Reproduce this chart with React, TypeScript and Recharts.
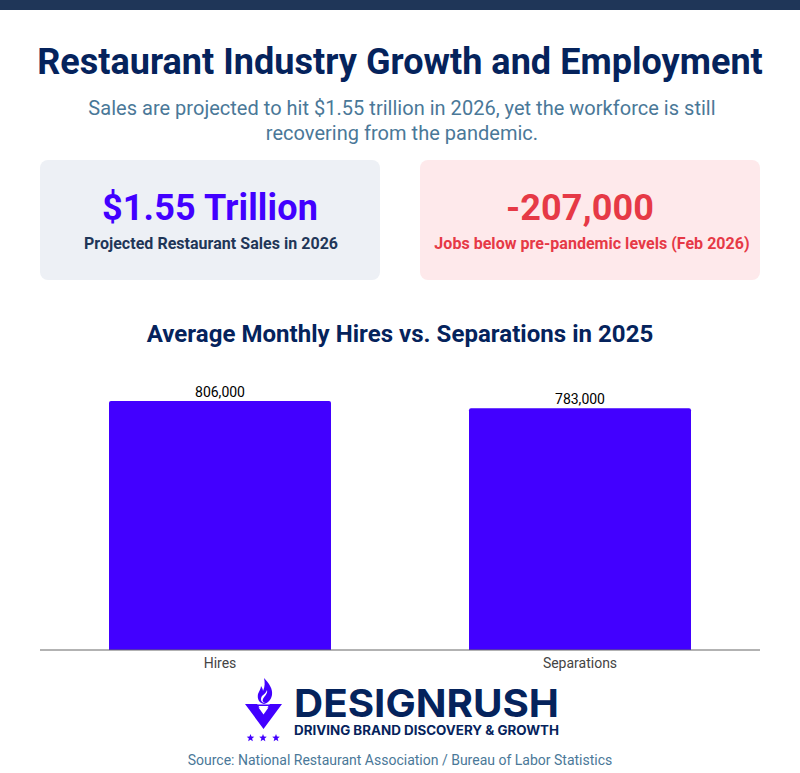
import { BarChart, Bar, XAxis, YAxis, LabelList } from 'recharts';

const categories = ['Hires', 'Separations'];
const monthlyCounts = [806000, 783000];

const data = categories.map((name, i) => ({ name, value: monthlyCounts[i] }));

const FONT = 'Roboto, sans-serif';
const NAVY = '#05235c';

function Card({ left, bg, color, subColor, big, small, bigShift = 0, smallShift = 0 }: any) {
  return (
    <div
      style={{
        position: 'absolute',
        left,
        top: 160,
        width: 340,
        height: 120,
        background: bg,
        borderRadius: 8,
        textAlign: 'center',
      }}
    >
      <div style={{ position: 'absolute', top: 26, left: bigShift, width: '100%', fontSize: 36, letterSpacing: 0.15, lineHeight: '44px', fontWeight: 700, color }}>
        {big}
      </div>
      <div style={{ position: 'absolute', top: 74, left: smallShift, width: '100%', fontSize: 16, letterSpacing: 0.03, lineHeight: '20px', fontWeight: 700, color: subColor, whiteSpace: 'nowrap' }}>
        {small}
      </div>
    </div>
  );
}

function Logo() {
  const star = (cx: number) => {
    const pts = [];
    for (let i = 0; i < 10; i++) {
      const r = i % 2 === 0 ? 4 : 1.7;
      const a = -Math.PI / 2 + (i * Math.PI) / 5;
      pts.push(`${cx + r * Math.cos(a)},${738 + r * Math.sin(a)}`);
    }
    return <polygon key={cx} points={pts.join(' ')} fill="#4200ff" />;
  };
  return (
    <svg width={800} height={773} style={{ position: 'absolute', left: 0, top: 0, pointerEvents: 'none' }}>
      <path
        d="M264 678 C269 683 273 689 272 695 C271 700 268 703 264 704 C259 703 257 699 258 694 C259 691 261 689 261 686 C262 688 263 689 263 691 C265 687 265 682 264 678 Z"
        fill="#4200ff"
      />
      <path d="M267 690 C268 694 264 696 263 699 C262 701 263 702 265 703 C261 703 260 699 262 696 C264 694 266 693 267 690 Z" fill="#fff" />
      <rect x={257} y={704.5} width={13} height={1.5} fill="#4200ff" />
      <path d="M245 704 L257 704 L263.5 713 L270 704 L282 704 L263.5 729 Z" fill="#4200ff" />
      <path d="M258.5 707.5 L268.5 707.5 L263.5 714.5 Z" fill="#fff" />
      {[250.5, 263, 276].map((x) => star(x))}
      <text
        x={294}
        y={717}
        fontFamily="Inter, sans-serif"
        fontWeight={700}
        fontSize={38.5}
        fill={NAVY}
        textLength={265}
        lengthAdjust="spacingAndGlyphs"
      >
        DESIGNRUSH
      </text>
      <text
        x={294}
        y={735}
        fontFamily="Inter, sans-serif"
        fontWeight={700}
        fontSize={12.5}
        fill={NAVY}
        textLength={265}
        lengthAdjust="spacingAndGlyphs"
      >
        DRIVING BRAND DISCOVERY &amp; GROWTH
      </text>
    </svg>
  );
}

export default function App() {
  return (
    <div
      style={{
        position: 'absolute',
        left: 0,
        top: 0,
        width: 800,
        height: 773,
        overflow: 'hidden',
        background: '#fff',
        fontFamily: FONT,
      }}
    >
      <div style={{ position: 'absolute', left: 0, top: 0, width: 800, height: 10, background: '#1f3658' }} />
      <div
        style={{
          position: 'absolute',
          top: 39,
          width: 800,
          textAlign: 'center',
          fontSize: 36,
          letterSpacing: 0.03,
          lineHeight: '46px',
          fontWeight: 700,
          color: NAVY,
        }}
      >
        Restaurant Industry Growth and Employment
      </div>
      <div
        style={{
          position: 'absolute',
          top: 96,
          left: 2,
          width: 800,
          textAlign: 'center',
          fontSize: 20,
          letterSpacing: 0.02,
          lineHeight: '25px',
          color: '#4a7898',
        }}
      >
        Sales are projected to hit $1.55 trillion in 2026, yet the workforce is still
        <br />
        recovering from the pandemic.
      </div>

      <Card left={40} bg="#edf0f5" color="#4200ff" subColor="#1f3658" big="$1.55 Trillion" small="Projected Restaurant Sales in 2026" smallShift={1} />
      <Card left={420} bg="#fee9eb" color="#e63946" subColor="#e63946" big="-207,000" small="Jobs below pre-pandemic levels (Feb 2026)" bigShift={-10} smallShift={2} />

      <div
        style={{
          position: 'absolute',
          top: 319,
          width: 800,
          textAlign: 'center',
          fontSize: 24,
          letterSpacing: 0.04,
          lineHeight: '30px',
          fontWeight: 700,
          color: NAVY,
        }}
      >
        Average Monthly Hires vs. Separations in 2025
      </div>

      <div style={{ position: 'absolute', left: 0, top: 360 }}>
        <BarChart
          width={800}
          height={320}
          data={data}
          margin={{ top: 12, right: 40, bottom: 0, left: 40 }}
          style={{ fontFamily: FONT }}
        >
          <XAxis
            dataKey="name"
            axisLine={{ stroke: '#666666', strokeWidth: 1 }}
            tickLine={false}
            tick={{ fontSize: 14, fill: '#444444' }}
            tickMargin={2}
            interval={0}
          />
          <YAxis hide domain={[0, 900000]} />
          <Bar dataKey="value" fill="#4200ff" barSize={222} radius={[2, 2, 0, 0]} isAnimationActive={false}>
            <LabelList
              dataKey="value"
              position="top"
              offset={4}
              formatter={(v: any) => Number(v).toLocaleString('en-US')}
              style={{ fontSize: 14, fill: '#000000' }}
            />
          </Bar>
        </BarChart>
      </div>

      <Logo />

      <div
        style={{
          position: 'absolute',
          top: 751,
          width: 800,
          textAlign: 'center',
          fontSize: 14,
          lineHeight: '18px',
          color: '#4a7898',
        }}
      >
        Source: National Restaurant Association / Bureau of Labor Statistics
      </div>
    </div>
  );
}
